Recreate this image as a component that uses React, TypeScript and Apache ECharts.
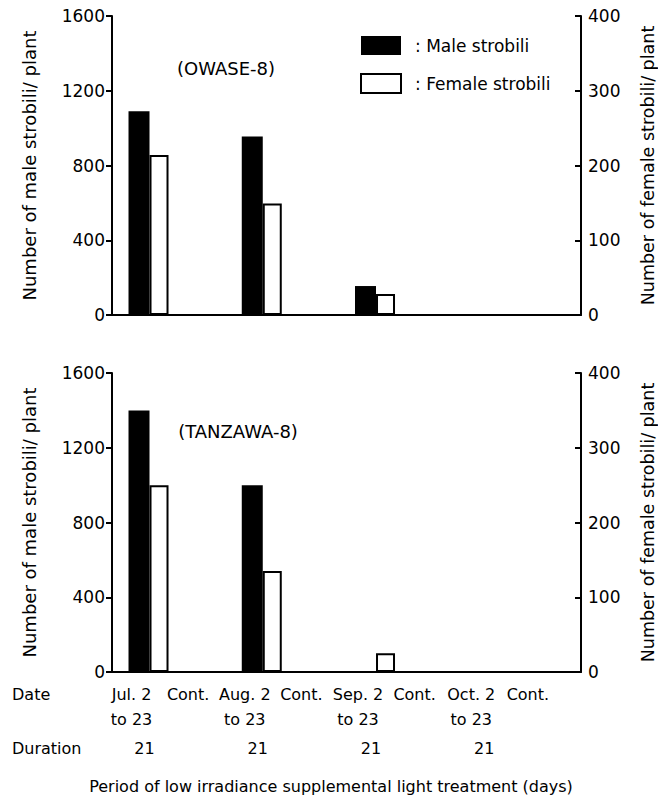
import React, { useEffect, useRef } from "react";
import * as echarts from "echarts";

const categories = ["Jul. 2\nto 23", "Cont.", "Aug. 2\nto 23", "Cont.", "Sep. 2\nto 23", "Cont.", "Oct. 2\nto 23", "Cont."];
const durations = ["21", "", "21", "", "21", "", "21", ""];
const owaseMale = [1090, 0, 955, 0, 155, 0, 0, 0];
const owaseFemale = [214, 0, 149, 0, 28, 0, 0, 0];
const tanzawaMale = [1400, 0, 1000, 0, 0, 0, 0, 0];
const tanzawaFemale = [250, 0, 135, 0, 25, 0, 0, 0];
const maleAxis = { min: 0, max: 1600, interval: 400 };
const femaleAxis = { min: 0, max: 400, interval: 100 };
const panelNames = ["(OWASE-8)", "(TANZAWA-8)"];
const seriesNames = ["Male strobili", "Female strobili"];
const leftTitle = "Number of male strobili/ plant";
const rightTitle = "Number of female strobili/ plant";
const xTitle = "Period of low irradiance supplemental light treatment (days)";

const FONT = '"DejaVu Sans", sans-serif';
const BLACK = "#000";

export default function App() {
  const ref = useRef<HTMLDivElement>(null);
  useEffect(() => {
    if (!ref.current) return;
    const chart = echarts.init(ref.current, undefined, { renderer: "svg" });
    const panelTops = [16, 373];
    const plotH = 299;
    const grids: any[] = [];
    const xAxes: any[] = [];
    const yAxes: any[] = [];
    const series: any[] = [];
    const data = [
      [owaseMale, owaseFemale],
      [tanzawaMale, tanzawaFemale],
    ];
    const plain = (v: number) => String(v);
    panelTops.forEach((top, p) => {
      const frameGrid = grids.length;
      grids.push({ left: 112, width: 469, top, height: plotH, outerBoundsMode: "none", containLabel: false });
      const dataGrid = grids.length;
      grids.push({ left: 120.2, width: 453, top, height: plotH, outerBoundsMode: "none", containLabel: false });
      xAxes.push({
        type: "value", gridIndex: frameGrid, min: 0, max: 1,
        axisLine: { show: true, lineStyle: { color: BLACK, width: 2 } },
        axisTick: { show: false }, axisLabel: { show: false }, splitLine: { show: false },
      });
      const dataX = xAxes.length;
      xAxes.push({
        type: "category", gridIndex: dataGrid, data: categories,
        axisLine: { show: false }, axisTick: { show: false },
        axisLabel: p === 1
          ? { show: true, interval: 0, color: BLACK, fontFamily: FONT, fontSize: 16, lineHeight: 25, margin: 10, padding: [0, 34, 0, 0] }
          : { show: false },
        splitLine: { show: false },
      });
      if (p === 1) {
        xAxes.push({
          type: "category", gridIndex: dataGrid, data: durations, position: "bottom", offset: 58,
          axisLine: { show: false }, axisTick: { show: false },
          axisLabel: { show: true, interval: 0, color: BLACK, fontFamily: FONT, fontSize: 16, lineHeight: 20, margin: 8, padding: [0, 8, 0, 0] },
          splitLine: { show: false },
        });
      }
      yAxes.push({
        type: "value", gridIndex: frameGrid, position: "left", ...maleAxis,
        name: leftTitle, nameLocation: "middle", nameRotate: 90, nameGap: 74,
        nameTextStyle: { color: BLACK, fontFamily: FONT, fontSize: 18 },
        axisLine: { show: true, lineStyle: { color: BLACK, width: 2 } },
        axisTick: { show: true, inside: false, length: 6, lineStyle: { color: BLACK, width: 2 } },
        axisLabel: { color: BLACK, fontFamily: FONT, fontSize: 17, margin: 7, formatter: plain },
        splitLine: { show: false },
      });
      yAxes.push({
        type: "value", gridIndex: frameGrid, position: "right", ...femaleAxis,
        name: rightTitle, nameLocation: "middle", nameRotate: 90, nameGap: 58,
        nameTextStyle: { color: BLACK, fontFamily: FONT, fontSize: 17.5 },
        axisLine: { show: true, lineStyle: { color: BLACK, width: 2 } },
        axisTick: { show: true, inside: true, length: 6, lineStyle: { color: BLACK, width: 2 } },
        axisLabel: { color: BLACK, fontFamily: FONT, fontSize: 17, margin: 7, formatter: plain },
        splitLine: { show: false },
      });
      const dataYL = yAxes.length;
      yAxes.push({
        type: "value", gridIndex: dataGrid, position: "left", ...maleAxis, show: false,
        splitLine: { show: false },
      });
      const dataYR = yAxes.length;
      yAxes.push({
        type: "value", gridIndex: dataGrid, position: "right", ...femaleAxis, show: false,
        splitLine: { show: false },
      });
      series.push({
        type: "bar", name: seriesNames[0], xAxisIndex: dataX, yAxisIndex: dataYL,
        data: data[p][0], barWidth: 21, barGap: "0%",
        itemStyle: { color: BLACK },
      });
      series.push({
        type: "bar", name: seriesNames[1], xAxisIndex: dataX, yAxisIndex: dataYR,
        data: data[p][1], barWidth: 19, barGap: "0%",
        itemStyle: { color: "#fff", borderColor: BLACK, borderWidth: 2 },
      });
    });

    chart.setOption({
      animation: false,
      backgroundColor: "#fff",
      textStyle: { fontFamily: FONT, color: BLACK },
      grid: grids,
      xAxis: xAxes,
      yAxis: yAxes,
      series,
      legend: {
        orient: "vertical", left: 355, top: 31, itemWidth: 40, itemHeight: 19, itemGap: 18,
        icon: "rect",
        data: [
          { name: seriesNames[0], itemStyle: { color: BLACK } },
          { name: seriesNames[1], itemStyle: { color: "#fff", borderColor: BLACK, borderWidth: 2 } },
        ],
        formatter: (n: string) => ": " + n,
        textStyle: { color: BLACK, fontFamily: FONT, fontSize: 17, padding: [0, 0, 0, 9] },
      },
      graphic: [
        { type: "text", x: 226, y: 68, style: { text: panelNames[0], font: `18px ${FONT}`, fill: BLACK, align: "center", verticalAlign: "middle" } },
        { type: "text", x: 238, y: 431, style: { text: panelNames[1], font: `18px ${FONT}`, fill: BLACK, align: "center", verticalAlign: "middle" } },
        { type: "text", x: 12, y: 694, style: { text: "Date", font: `16px ${FONT}`, fill: BLACK, align: "left", verticalAlign: "middle" } },
        { type: "text", x: 12, y: 748, style: { text: "Duration", font: `16px ${FONT}`, fill: BLACK, align: "left", verticalAlign: "middle" } },
        { type: "text", x: 331, y: 786, style: { text: xTitle, font: `16px ${FONT}`, fill: BLACK, align: "center", verticalAlign: "middle" } },
      ],
    });
    return () => chart.dispose();
  }, []);
  return (
    <div
      ref={ref}
      style={{ position: "absolute", left: 0, top: 0, width: 658, height: 800, background: "#fff" }}
    />
  );
}
